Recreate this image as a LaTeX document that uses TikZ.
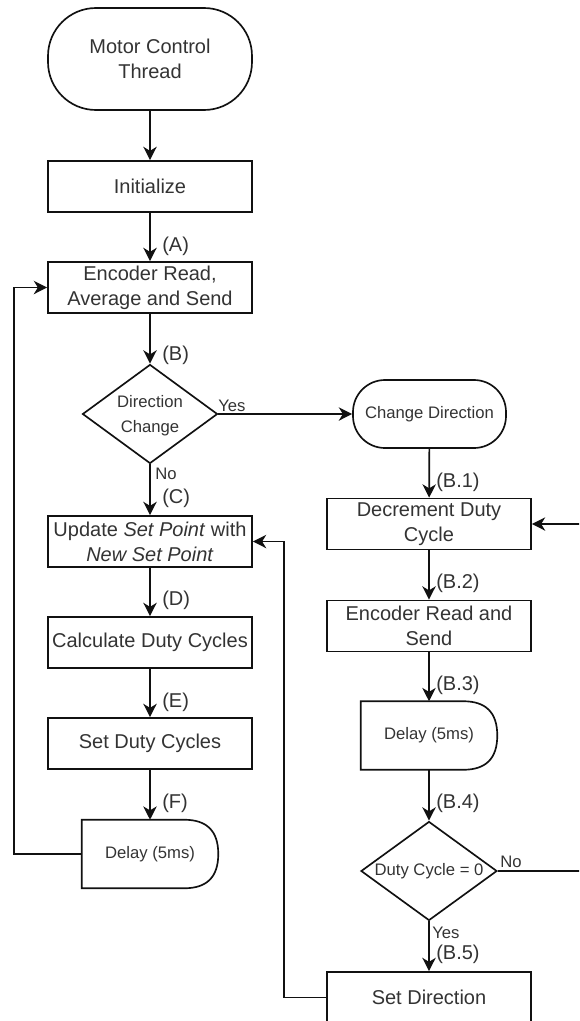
\documentclass[tikz,border=0pt]{standalone}
\usepackage{fontspec}
\setmainfont{Liberation Sans}
\usetikzlibrary{arrows.meta,shapes.geometric,calc}
\newcommand{\fsmain}{\fontsize{15pt}{18.75pt}\selectfont}
\newcommand{\fssmall}{\fontsize{12.5pt}{18.75pt}\selectfont}
\definecolor{txt}{HTML}{333333}
\definecolor{ln}{HTML}{111111}
\tikzset{
  line/.style={draw=ln, line width=1.25pt},
  arr/.style={line, -{Stealth[length=10pt,width=10pt,inset=3pt]}},
  box/.style={line, rectangle, minimum width=153pt, minimum height=38.25pt, inner sep=0pt, align=center, font=\fsmain, text=txt},
  term/.style={line, rectangle, inner sep=0pt, align=center, text=txt},
  dec/.style={line, diamond, inner sep=0pt},
  delaybox/.style={rectangle, minimum width=102pt, minimum height=51pt, inner sep=0pt, font=\fssmall, text=txt},
  lab/.style={font=\fsmain, text=txt, inner sep=0pt, anchor=west},
  slab/.style={font=\fssmall, text=txt, inner sep=0pt, anchor=west},
  intext/.style={font=\fssmall, text=txt, inner sep=0pt, align=center},
}
\begin{document}
\begin{tikzpicture}[x=0.75pt,y=-0.75pt]
\useasboundingbox (0,0) rectangle (579,1021);
\clip (0,0) rectangle (579,1021);
% left column
\node[term, minimum width=153pt, minimum height=76.5pt, rounded corners=36pt, font=\fsmain] (start) at (150,59) {Motor Control\\Thread};
\node[box] (init) at (150,186.5) {Initialize};
\node[box] (enc) at (150,287.5) {Encoder Read,\\Average and Send};
\node[dec, minimum width=101.25pt, minimum height=74.25pt] (dc1) at (150,414) {};
\node[intext] (dc1t) at (150,415.5) {Direction\\Change};
\node[box] (upd) at (150,541.5) {Update \textit{Set Point} with\\\textit{New Set Point}};
\node[box] (calc) at (150,642.5) {Calculate Duty Cycles};
\node[box] (setd) at (150,743.5) {Set Duty Cycles};
\node[delaybox] (d1) at (150,854) {Delay (5ms)};
\draw[line] (d1.north west) -- ($(d1.north east)+(-34,0)$)
  .. controls ($(d1.north east)+(-11.33,0)$) and ($(d1.north east)+(0,11.33)$) .. (d1.east)
  .. controls ($(d1.south east)+(0,-11.33)$) and ($(d1.south east)+(-11.33,0)$) .. ($(d1.south east)+(-34,0)$)
  -- (d1.south west) -- cycle;
% right column
\node[term, minimum width=114.75pt, minimum height=51pt, rounded corners=24pt, font=\fssmall] (cd) at (429.5,414) {Change Direction};
\node[box] (decr) at (429,524) {Decrement Duty\\Cycle};
\node[box] (encs) at (429,626) {Encoder Read and\\Send};
\node[delaybox] (d2) at (429,735.5) {Delay (5ms)};
\draw[line] (d2.north west) -- ($(d2.north east)+(-34,0)$)
  .. controls ($(d2.north east)+(-11.33,0)$) and ($(d2.north east)+(0,11.33)$) .. (d2.east)
  .. controls ($(d2.south east)+(0,-11.33)$) and ($(d2.south east)+(-11.33,0)$) .. ($(d2.south east)+(-34,0)$)
  -- (d2.south west) -- cycle;
\node[dec, minimum width=102pt, minimum height=74.25pt] (dc2) at (429,871) {};
\node[intext] (dc2t) at (429,871.5) {Duty Cycle = 0};
\node[box] (setdir) at (429,997.5) {Set Direction};
\coordinate (rside) at (600,871);
% connectors
\draw[arr] (start) -- (init);
\draw[arr] (init) -- (enc);
\draw[arr] (enc) -- (dc1);
\draw[arr] (dc1.south) -- (upd);
\draw[arr] (upd) -- (calc);
\draw[arr] (calc) -- (setd);
\draw[arr] (setd) -- (d1);
\draw[arr] (d1.west) -- ++(-68,0) |- (enc.west);
\draw[arr] (dc1.east) -- (cd.west);
\draw[arr] (cd) -- (decr);
\draw[arr] (decr) -- (encs);
\draw[arr] (encs) -- (d2);
\draw[arr] (d2) -- (dc2);
\draw[arr] (dc2.south) -- (setdir);
\draw[arr] (dc2.east) -- (rside) |- (decr.east);
\draw[arr] (setdir.west) -- ++(-42,0) |- (upd.east);
% labels
\node[lab] (lA) at (162,246) {(A)};
\node[lab] (lB) at (162,355) {(B)};
\node[lab] (lC) at (162,498) {(C)};
\node[lab] (lD) at (162,600) {(D)};
\node[lab] (lE) at (162,702) {(E)};
\node[lab] (lF) at (162,803) {(F)};
\node[slab] (yes1) at (218,405.5) {Yes};
\node[slab] (no1) at (155,474) {No};
\node[lab] (lB1) at (436,482) {(B.1)};
\node[lab] (lB2) at (436,583) {(B.2)};
\node[lab] (lB3) at (436,685) {(B.3)};
\node[lab] (lB4) at (436,803) {(B.4)};
\node[lab] (lB5) at (436,954) {(B.5)};
\node[slab] (no2) at (500,862) {No};
\node[slab] (yes2) at (432,933) {Yes};
\end{tikzpicture}
\end{document}
